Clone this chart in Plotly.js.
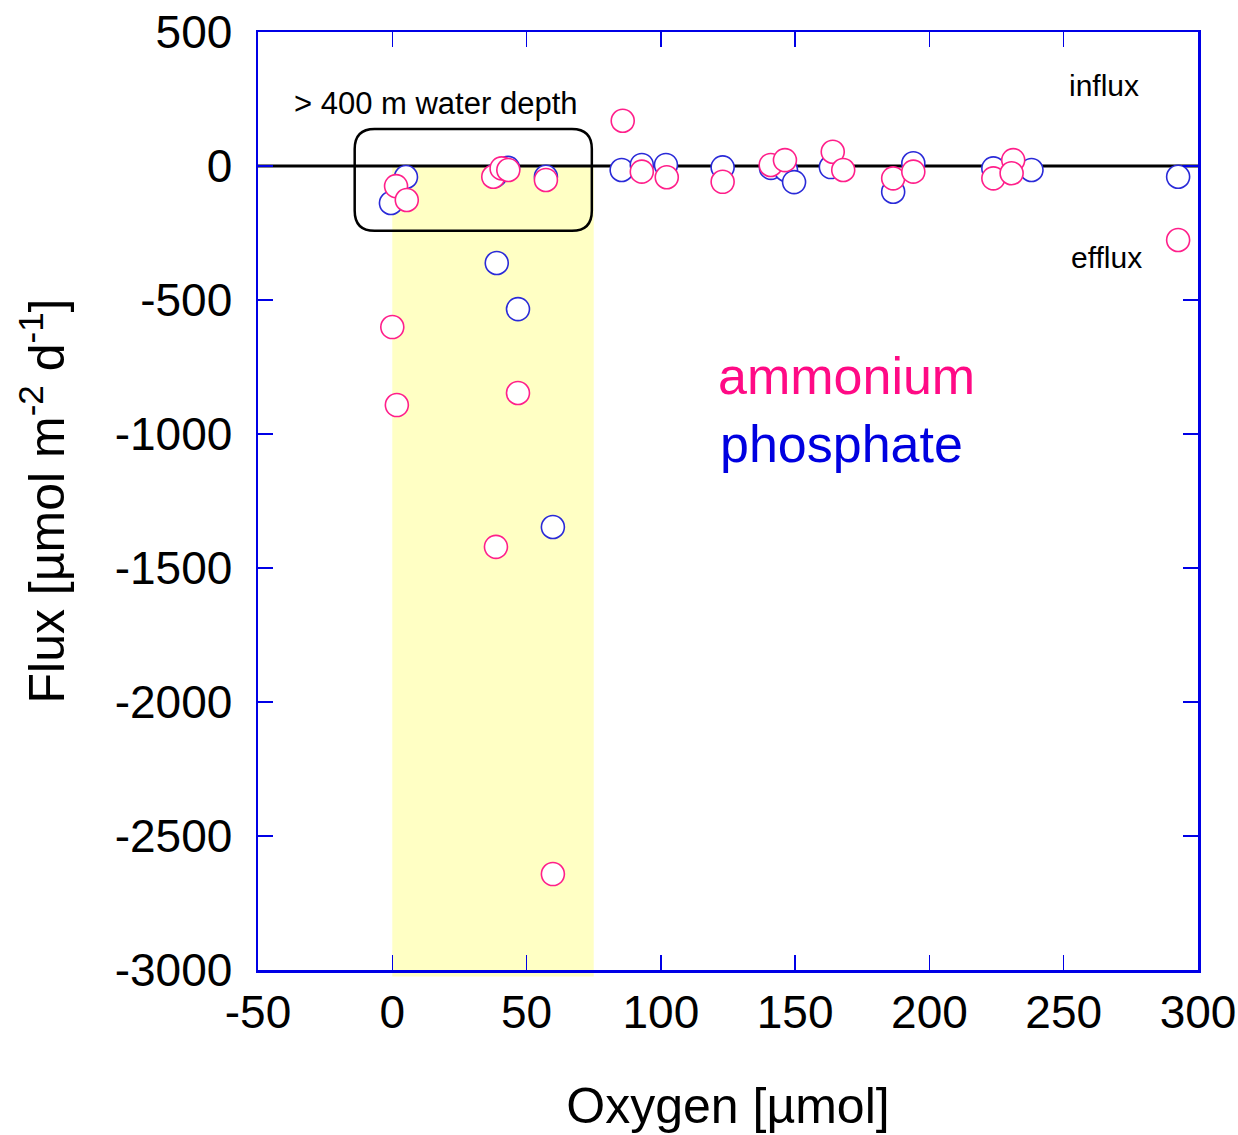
<!DOCTYPE html>
<html>
<head>
<meta charset="utf-8">
<script src="https://cdn.plot.ly/plotly-3.0.1.min.js"></script>
<style>
  html, body { margin: 0; padding: 0; background: #ffffff; }
  #chart { width: 1238px; height: 1135px; }
</style>
</head>
<body>
<div id="chart"></div>
<script>
// Ammonium flux (pink) vs oxygen
const ammoniumOxygen = [1.4, 5.4, 0, 1.7, 37.6, 40.7, 43.2, 57.2, 46.8, 38.6, 59.8, 85.8, 92.9, 102.2, 123.0, 140.9, 146.2, 164.0, 167.9, 186.5, 194.0, 223.8, 231.2, 230.6, 292.6];
const ammoniumFlux   = [-75, -127, -601, -892, -40, -9, -15, -52, -847, -1421, -2642, 169, -21, -42, -59, 4, 22, 53, -15, -46, -21, -46, 22, -27, -276];

// Phosphate flux (blue) vs oxygen
const phosphateOxygen = [5.1, -0.5, 38.9, 46.8, 59.8, 38.2, 43.1, 57.2, 85.4, 92.9, 101.9, 123.0, 141.0, 146.6, 149.6, 163.3, 186.5, 194.0, 223.8, 238.0, 292.6];
const phosphateFlux   = [-41, -138, -362, -534, -1347, -37, -7, -40, -15, 4, 4, -5, -7, -15, -60, -4, -96, 10, -9, -15, -40];

const xTicks = [-50, 0, 50, 100, 150, 200, 250, 300];
const yTicks = [500, 0, -500, -1000, -1500, -2000, -2500, -3000];

// Highlighted low-oxygen band and box region (data units)
const bandX = [0, 75];
const boxX = [-14, 74.3];
const boxY = [-242, 138];

const FONT = '"Liberation Sans", Arial, sans-serif';
const PINK = '#ff1f8a';
const BLUE = '#2a2ad8';
const AXIS_BLUE = '#0000e6';

const rx = 7.4, ry = 75;
const [bx0, bx1] = boxX, [by0, by1] = boxY;
const boxPath = `M ${bx0+rx},${by1} L ${bx1-rx},${by1} Q ${bx1},${by1} ${bx1},${by1-ry} L ${bx1},${by0+ry} Q ${bx1},${by0} ${bx1-rx},${by0} L ${bx0+rx},${by0} Q ${bx0},${by0} ${bx0},${by0+ry} L ${bx0},${by1-ry} Q ${bx0},${by1} ${bx0+rx},${by1} Z`;

const traces = [
  {
    x: phosphateOxygen, y: phosphateFlux, type: 'scatter', mode: 'markers', name: 'phosphate',
    marker: { symbol: 'circle', size: 23, color: '#ffffff', line: { color: BLUE, width: 1.6 } },
    cliponaxis: false
  },
  {
    x: ammoniumOxygen, y: ammoniumFlux, type: 'scatter', mode: 'markers', name: 'ammonium',
    marker: { symbol: 'circle', size: 23, color: '#ffffff', line: { color: PINK, width: 1.6 } },
    cliponaxis: false
  }
];

const axisCommon = {
  showgrid: false, zeroline: false,
  showline: true, linecolor: AXIS_BLUE, linewidth: 2.5, mirror: 'ticks',
  ticks: 'inside', ticklen: 15, tickwidth: 1.5, tickcolor: AXIS_BLUE,
  tickfont: { family: FONT, size: 46, color: '#000000' }
};

const layout = {
  width: 1238, height: 1135,
  margin: { l: 258, r: 40, t: 32, b: 165 },
  paper_bgcolor: '#ffffff', plot_bgcolor: '#ffffff',
  showlegend: false,
  xaxis: Object.assign({}, axisCommon, {
    range: [-50, 300], tickmode: 'array', tickvals: xTicks, ticktext: xTicks.map(String),
    ticklabelstandoff: 0,
    title: { text: 'Oxygen [µmol]', font: { family: FONT, size: 50, color: '#000000' }, standoff: 52 }
  }),
  yaxis: Object.assign({}, axisCommon, {
    range: [-3000, 500], tickmode: 'array', tickvals: yTicks, ticktext: yTicks.map(String),
    ticklabelstandoff: 14,
    title: { text: 'Flux [µmol m<sup>-2</sup> d<sup>-1</sup>]', font: { family: FONT, size: 50, color: '#000000' }, standoff: 34 }
  }),
  shapes: [
    { type: 'rect', xref: 'x', yref: 'y', x0: bandX[0], x1: bandX[1], y0: -3000, y1: 0,
      fillcolor: '#ffffc4', line: { width: 0 }, layer: 'below' },
    { type: 'rect', xref: 'x', yref: 'paper', x0: bandX[0], x1: bandX[1], y0: -0.007, y1: 0,
      fillcolor: '#ffffc4', line: { width: 0 }, layer: 'below' },
    { type: 'line', xref: 'x', yref: 'y', x0: -50, x1: 300, y0: 0, y1: 0,
      line: { color: '#000000', width: 3 }, layer: 'below' },
    { type: 'path', xref: 'x', yref: 'y', path: boxPath,
      line: { color: '#000000', width: 2.5 }, layer: 'below' }
  ],
  annotations: [
    { x: 16.1, y: 235, xref: 'x', yref: 'y', text: '> 400 m water depth', showarrow: false,
      font: { family: FONT, size: 31, color: '#000000' } },
    { x: 265, y: 302, xref: 'x', yref: 'y', text: 'influx', showarrow: false,
      font: { family: FONT, size: 30, color: '#000000' } },
    { x: 266, y: -340, xref: 'x', yref: 'y', text: 'efflux', showarrow: false,
      font: { family: FONT, size: 30, color: '#000000' } },
    { x: 169, y: -784, xref: 'x', yref: 'y', text: 'ammonium', showarrow: false,
      font: { family: FONT, size: 52, color: '#ff0a85' } },
    { x: 167.4, y: -1037, xref: 'x', yref: 'y', text: 'phosphate', showarrow: false,
      font: { family: FONT, size: 52, color: '#0000e0' } }
  ]
};

Plotly.newPlot('chart', traces, layout, { displayModeBar: false, staticPlot: true });
</script>
</body>
</html>
